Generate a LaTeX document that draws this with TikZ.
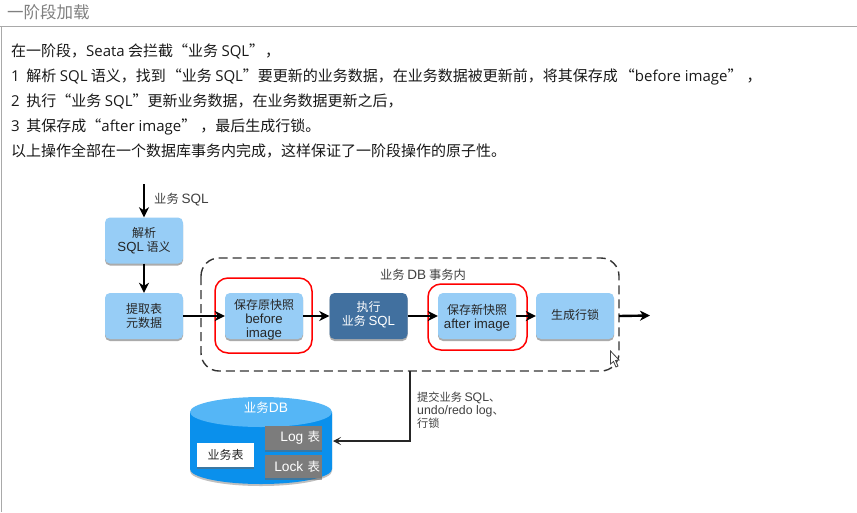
\documentclass[tikz,border=0pt]{standalone}
\usepackage{fontspec}
\setmainfont{Noto Sans CJK SC}
\newfontfamily\latb{Open Sans}
\newfontfamily\latd[Scale=1.1]{Liberation Sans}
\newcommand{\bl}[1]{{\latb #1}}
\newcommand{\dl}[1]{{\latd #1}}
\usetikzlibrary{arrows.meta,shadows,calc}
\definecolor{boxblue}{HTML}{97CDF6}
\definecolor{darkblue}{HTML}{41709F}
\definecolor{dbblue}{HTML}{0A90EC}
\definecolor{dbtop}{HTML}{55B6F6}
\definecolor{tblgray}{HTML}{7C7C7C}
\definecolor{rulegray}{HTML}{A9A9A9}
\tikzset{
  x=1pt,y=-1pt,
  softshadow/.style={general shadow={shadow xshift=0pt,shadow yshift=#1,fill=black!60,opacity=.55}},
  flowbox/.style={draw=none,fill=boxblue,rounded corners=5pt,minimum width=78pt,minimum height=46pt,
    inner sep=0pt,align=center,font=\fontsize{12}{14}\selectfont,text=black!85,softshadow=-2pt},
  flowtext/.style={inner sep=0pt,align=center,font=\fontsize{12}{14}\selectfont,text=black!85},
  darkbox/.style={flowbox,fill=darkblue,text=white},
  redframe/.style={draw=red,line width=1.5pt,rounded corners=13pt},
  flow/.style={draw=black,line width=2.4pt,-{Stealth[length=10pt,width=10pt,inset=3pt]}},
  thinflow/.style={draw=black!85,line width=1.3pt,-{Stealth[length=8pt,width=8pt,inset=4pt]}},
  body/.style={anchor=base west,inner sep=0pt,font=\fontsize{15}{17}\selectfont,text=black!90},
  lbl/.style={inner sep=0pt,font=\fontsize{12.3}{14}\selectfont,text=black!75},
  tbl/.style={fill=tblgray,text width=53pt,inner xsep=2pt,inner ysep=0pt,text=white,align=right,
    font=\fontsize{12.5}{14}\selectfont,softshadow=-1.5pt},
}
\begin{document}
\begin{tikzpicture}
\useasboundingbox (0,0) rectangle (857,512);
\fill[white] (0,0) rectangle (857,512);
% page chrome
\draw[rulegray,line width=1pt] (0,26.5) -- (857,26.5);
\draw[rulegray,line width=1pt] (1,26.5) -- (1,512);
\node[anchor=base west,inner sep=0pt,font=\fontsize{16.5}{20}\selectfont,text=black!50] (title) at (7,18.5) {一阶段加载};
% paragraph
\node[body] (l1) at (11,56) {在一阶段，\bl{Seata} 会拦截“业务 \bl{SQL}”\hspace{1pt}，};
\node[body] (l2) at (11,81) {\bl{1}\ \ 解析 \bl{SQL} 语义，找到\hspace{1pt}“业务 \bl{SQL}”要更新的业务数据，在业务数据被更新前，将其保存成\hspace{2pt}“\bl{before image}”\hspace{4pt}，};
\node[body] (l3) at (11,106) {\bl{2}\ \ 执行“业务 \bl{SQL}”更新业务数据，在业务数据更新之后，};
\node[body] (l4) at (11,131) {\bl{3}\ \ 其保存成“\bl{after image}”\hspace{4pt}，最后生成行锁。};
\node[body] (l5) at (11,156) {以上操作全部在一个数据库事务内完成，这样保证了一阶段操作的原子性。};
% transaction frame
\draw[black!80,line width=1.4pt,dash pattern=on 9pt off 5pt,rounded corners=18pt] (201,258) rectangle (619,371);
\coordinate (framebottom) at (410,371);
\node[lbl,anchor=center] (txlabel) at (423,275) {业务 \dl{DB} 事务内};
% boxes
\coordinate (in) at (144,184);
\coordinate (outp) at (650,315.5);
\node[flowbox] (parse) at (144,240.5) {解析\\\dl{SQL} 语义};
\node[flowbox] (meta) at (144,316) {提取表\\元数据};
\node[flowbox] (before) at (264,316) {};
\node[flowtext] (beforetext) at (264,319.5) {保存原快照\\\dl{before}\\\dl{image}};
\node[darkbox] (exec) at (368.5,316) {};
\node[flowtext,text=white] (exectext) at (368.5,315) {执行\\业务 \dl{SQL}};
\node[flowbox] (after) at (477,316) {};
\node[flowtext] (aftertext) at (477,317.5) {保存新快照\\\dl{after image}};
\node[flowbox] (lock) at (575,316) {};
\node[flowtext] (locktext) at (575,315) {生成行锁};
% red frames
\draw[redframe] (215,278) rectangle (312,353);
\draw[redframe] (428,284) rectangle (527,350);
% arrows
\draw[flow] (in) -- (parse.north);
\draw[flow] (parse) -- (meta);
\draw[flow] (meta) -- (before);
\draw[flow] (before) -- (exec);
\draw[flow] (exec) -- (after);
\draw[flow] (after) -- (lock);
\draw[flow] (lock.east -| 619,0) -- (outp);
\node[lbl,anchor=west] (sql) at (154,200) {业务 \dl{SQL}};
% database
\fill[black!25] (190,414) -- (190,471) arc[x radius=71,y radius=15,start angle=180,end angle=0] -- (332,414) -- cycle;
\fill[dbblue] (190,412) -- (190,469) arc[x radius=71,y radius=15,start angle=180,end angle=0] -- (332,412) -- cycle;
\fill[dbtop] (261,412) ellipse[x radius=71,y radius=15];
\node[inner sep=0pt,text=white,font=\fontsize{12.5}{14}\selectfont] (dbname) at (266,407.5) {业务\dl{DB}};
\node[fill=white,minimum width=57pt,minimum height=24pt,inner sep=0pt,font=\fontsize{12}{14}\selectfont,text=black!85,softshadow=-1.5pt] (bt) at (225.5,455) {业务表};
\node[tbl,minimum height=24pt] (logt) at (293.5,438) {\dl{Log} 表};
\node[tbl,minimum height=23pt] (lockt) at (293.5,466.5) {\dl{Lock} 表};
\coordinate (dbside) at (333,441);
\draw[thinflow] (framebottom) |- (dbside);
\node[lbl,anchor=north west,align=left,font=\fontsize{11.2}{13}\selectfont] (commit) at (417,392) {提交业务 \dl{SQL}、\\\dl{undo/redo log}、\\行锁};
% cursor
\draw[black!75,fill=white,line width=.8pt] (610.5,351) -- (610.5,364) -- (613.5,361.5) -- (616,367) -- (618,366) -- (615.5,360.5) -- (619,360) -- cycle;
\end{tikzpicture}
\end{document}
